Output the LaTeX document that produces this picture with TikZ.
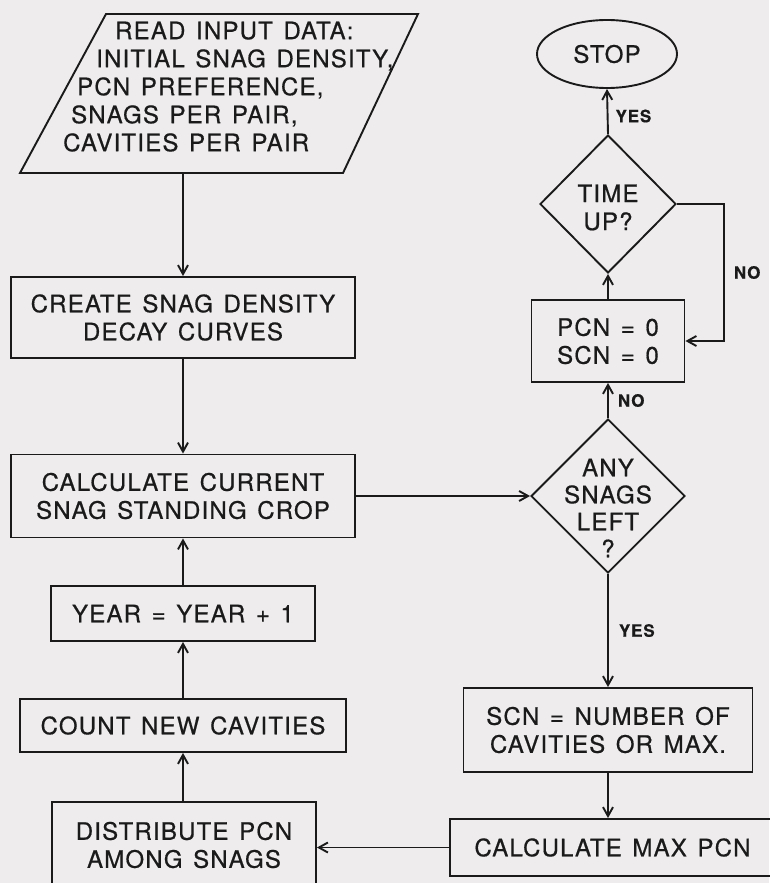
\documentclass[tikz,border=0pt]{standalone}
\usepackage{fontspec}
\setmainfont{TeX Gyre Heros}[LetterSpace=5,WordSpace=1.35,FakeBold=0.6]
\usetikzlibrary{positioning, arrows.meta, shapes.geometric, calc}
\definecolor{paperGrey}{HTML}{EEECED}
\definecolor{inkBlack}{HTML}{1A1A1A}
\newcommand{\flowfont}{\fontsize{24}{28}\selectfont}
\newcommand{\labelfont}{\fontsize{17}{20}\selectfont\bfseries}
\tikzset{
  flowline/.style={draw=inkBlack, line width=1.9pt},
  procbox/.style={flowline, rectangle, inner sep=0pt, align=center, font=\flowfont, text=inkBlack},
  decision/.style={flowline, diamond, inner sep=0pt},
  terminal/.style={flowline, ellipse, inner sep=0pt, font=\flowfont, text=inkBlack},
  arr/.style={flowline, -{Straight Barb[length=9pt,width=10pt,line width=1.9pt]}},
  flowlabel/.style={font=\labelfont, inner sep=0pt, text=inkBlack},
  flowtext/.style={font=\flowfont, inner sep=0pt, text=inkBlack},
}

\begin{document}
\begin{tikzpicture}[x=1pt, y=-1pt]
  \fill[paperGrey] (0,0) rectangle (769,883);
  \useasboundingbox (0,0) rectangle (769,883);

  % input
  \draw[flowline] (106,14) -- (418,14) -- (343,173) -- (20,173) -- cycle;
  \node[flowtext, align=left, anchor=north west] (read) at (63,21.5) {%
    \hspace*{52pt}READ INPUT DATA:\\
    \hspace*{33pt}INITIAL SNAG DENSITY,\\
    \hspace*{14pt}PCN PREFERENCE,\\
    \hspace*{8pt}SNAGS PER PAIR,\\
    CAVITIES PER PAIR};
  \coordinate (readout) at (183,173);

  % left column
  \node[procbox, minimum width=344pt, minimum height=81pt] (create) at (183,317.5) {CREATE SNAG DENSITY\\DECAY CURVES};
  \node[procbox, minimum width=344pt, minimum height=83pt] (calc) at (183,496) {CALCULATE CURRENT\\SNAG STANDING CROP};
  \node[procbox, minimum width=264pt, minimum height=55pt] (year) at (183,613.5) {YEAR = YEAR + 1};
  \node[procbox, minimum width=326pt, minimum height=53pt] (count) at (183,725.5) {COUNT NEW CAVITIES};
  \node[procbox, minimum width=264pt, minimum height=86pt] (dist) at (184,845) {DISTRIBUTE PCN\\AMONG SNAGS};

  % right column
  \node[terminal, minimum width=140pt, minimum height=68pt] (stop) at (607,54) {STOP};
  \node[decision, minimum width=136pt, minimum height=138pt] (time) at (608,204) {};
  \node[flowtext, align=center] (timetxt) at (608,207.5) {TIME\\UP?};
  \node[procbox, minimum width=153pt, minimum height=82pt] (pcn) at (608,341) {PCN = 0\\SCN = 0};
  \node[decision, minimum width=154pt, minimum height=154pt] (any) at (608,496) {};
  \node[flowtext, align=center, font=\fontsize{24}{27}\selectfont] (anytxt) at (608,508) {ANY\\SNAGS\\LEFT\\?};
  \node[procbox, minimum width=289pt, minimum height=84pt] (scn) at (608,730) {SCN = NUMBER OF\\CAVITIES OR MAX.};
  \node[procbox, minimum width=325pt, minimum height=57pt] (max) at (612.5,847.5) {CALCULATE MAX PCN};

  % connectors
  \draw[arr] (readout) -- (create.north);
  \draw[arr] (create.south) -- (calc.north);
  \draw[arr] (year.north) -- (calc.south);
  \draw[arr] (count.north) -- (year.south);
  \draw[arr] (dist.north -| count.north) -- (count.south);
  \draw[arr] (calc.east) -- (any.west);
  \draw[arr] (any.south) -- node[flowlabel, right=10pt] (yesany) {YES} (scn.north);
  \draw[arr] (scn.south) -- (scn.south |- max.north);
  \draw[arr] (max.west) -- (max.west -| dist.east);
  \draw[arr] (any.north) -- node[flowlabel, right=9pt] (noany) {NO} (pcn.south);
  \draw[arr] (pcn.north) -- (time.south);
  \draw[arr] (time.north) -- node[flowlabel, right=7pt, pos=0.4] (yestime) {YES} (stop.south);
  \draw[arr] (time.east) -- ++(47,0) |- node[flowlabel, pos=0.25, right=9pt] (notime) {NO} (pcn.east);
\end{tikzpicture}
\end{document}
